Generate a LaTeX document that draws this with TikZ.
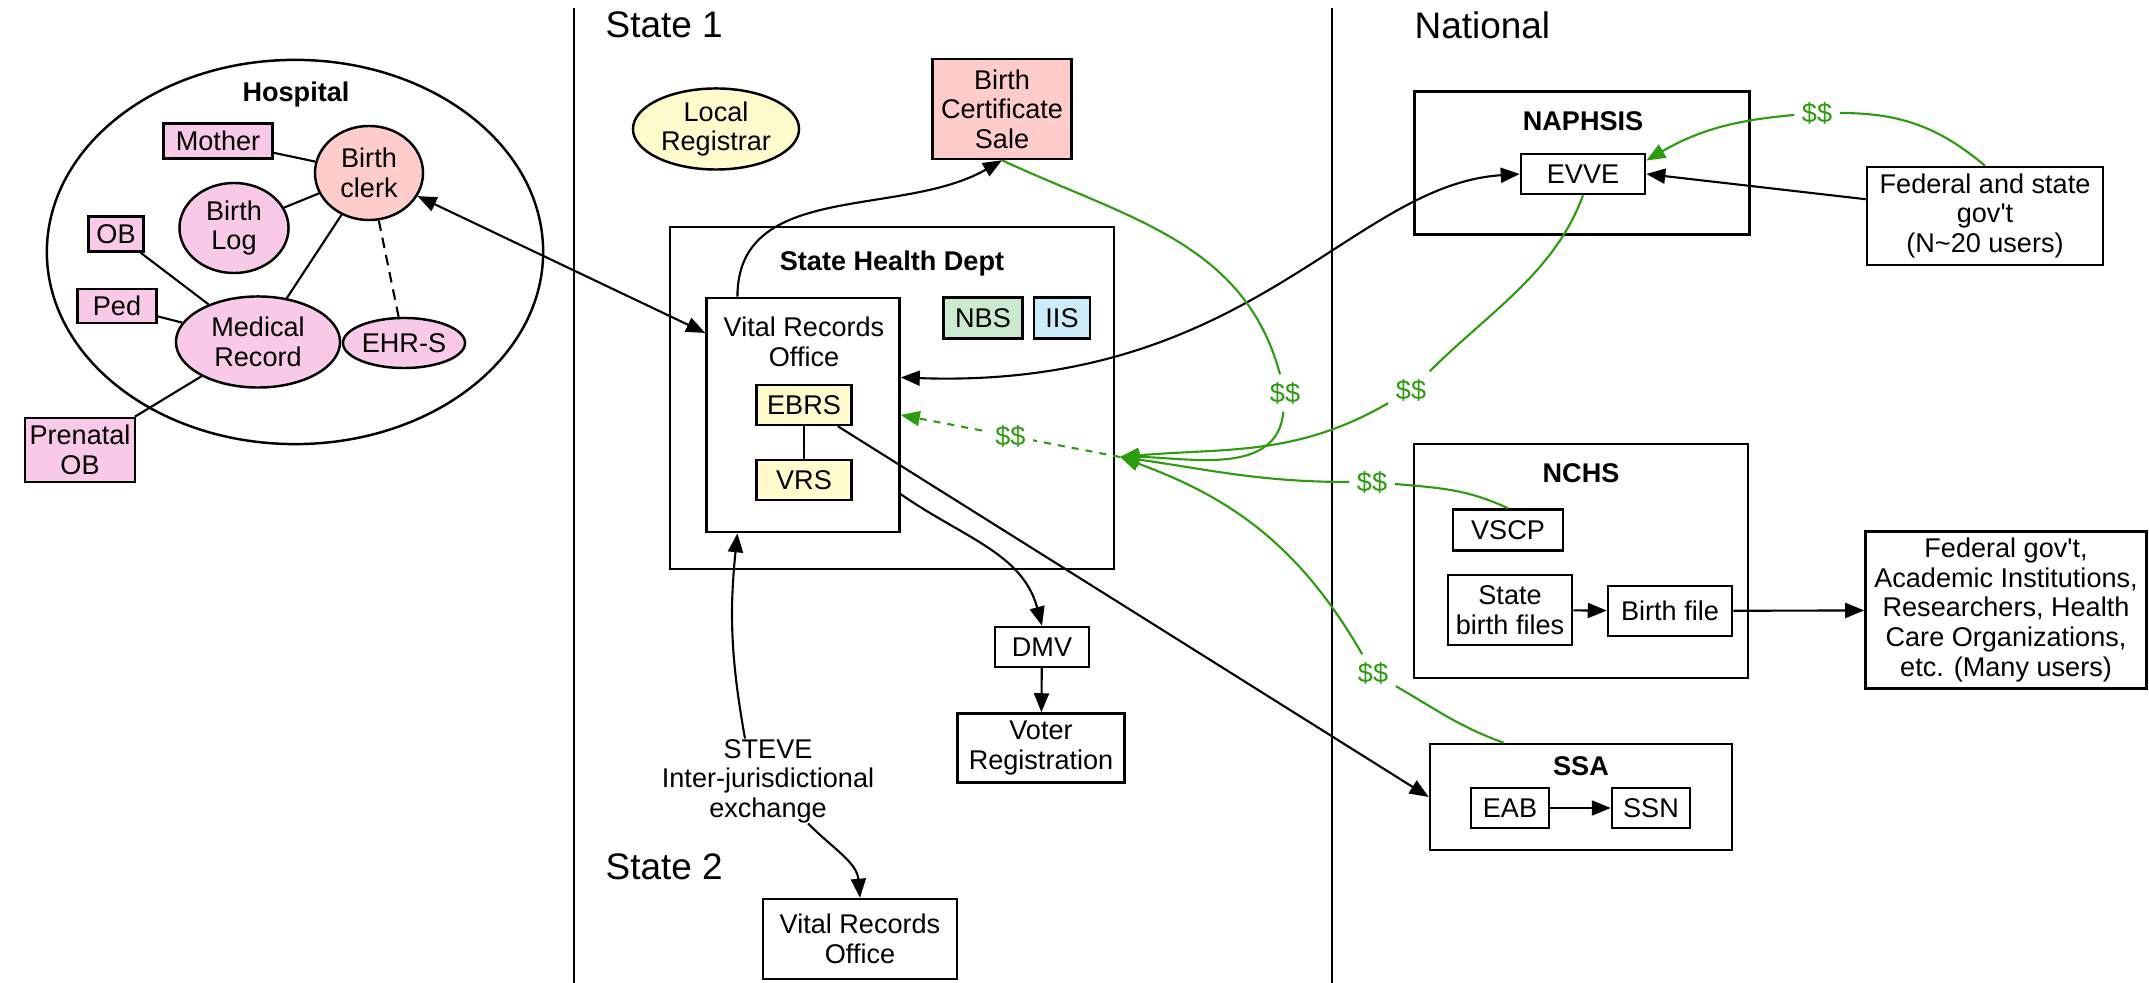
\documentclass[tikz,border=0pt]{standalone}
\usepackage{fontspec}
\setmainfont{Liberation Sans}[Ligatures=TeXOff]
\usepackage{tikz}
\usetikzlibrary{shapes.geometric,arrows.meta}
\definecolor{hosppink}{RGB}{248,202,232}
\definecolor{salmon}{RGB}{255,204,204}
\definecolor{paleyellow}{RGB}{255,251,204}
\definecolor{palegreen}{RGB}{204,234,208}
\definecolor{paleblue}{RGB}{204,236,250}
\definecolor{money}{RGB}{45,155,15}

\begin{document}
\begin{tikzpicture}[x=0.01cm,y=-0.01cm,>={Triangle[length=0.19cm,width=0.15cm]},
  every node/.style={font=\fontsize{7.7}{8.4}\selectfont,align=center,inner sep=0pt},
  box/.style={draw,line width=0.7pt,rectangle},
  oval/.style={draw,line width=0.7pt,ellipse},
  title/.style={font=\fontsize{7.7}{8.4}\selectfont\bfseries},
  region/.style={font=\fontsize{10.5}{12}\selectfont,anchor=west},
  dollar/.style={text=money,inner sep=2pt},
  link/.style={line width=0.6pt},
  pay/.style={draw=money,line width=0.6pt}]
\useasboundingbox (0,0) rectangle (2149,983);

\draw[line width=0.8pt] (574,8) -- (574,983);
\draw[line width=0.8pt] (1332,8) -- (1332,983);
\node[region] (stateone) at (605,25) {State 1};
\node[region] (statetwo) at (605,867) {State 2};
\node[region] (national) at (1414,25) {National};

\node[oval,minimum width=4.96cm,minimum height=3.84cm] (hosp) at (295,252) {};
\node[title] (hosplabel) at (296,95) {Hospital};
\node[box,fill=hosppink,minimum width=1.09cm,minimum height=0.35cm] (mother) at (218,141) {Mother};
\node[oval,fill=salmon,minimum width=1.08cm,minimum height=0.94cm] (clerk) at (369,173) {Birth\\clerk};
\node[oval,fill=hosppink,minimum width=1.09cm,minimum height=0.9cm] (birthlog) at (234,228) {Birth\\Log};
\node[box,fill=hosppink,minimum width=0.55cm,minimum height=0.35cm] (ob) at (116,234) {OB};
\node[box,fill=hosppink,minimum width=0.79cm,minimum height=0.34cm] (ped) at (117,306) {Ped};
\node[oval,fill=hosppink,minimum width=1.64cm,minimum height=0.91cm] (medrec) at (258,342) {Medical\\Record};
\node[oval,fill=hosppink,minimum width=1.22cm,minimum height=0.5cm] (ehrs) at (404,343) {EHR-S};
\node[box,fill=hosppink,minimum width=1.1cm,minimum height=0.64cm] (prenatal) at (80,450) {Prenatal\\OB};

\draw[link] (mother) -- (clerk);
\draw[link] (birthlog) -- (clerk);
\draw[link] (clerk) -- (medrec);
\draw[link,dash pattern=on 3pt off 2pt] (clerk) -- (ehrs);
\draw[link] (ob) -- (medrec);
\draw[link] (ped) -- (medrec);
\draw[link] (prenatal) -- (medrec);

\node[oval,fill=paleyellow,minimum width=1.66cm,minimum height=0.81cm] (localreg) at (716,129) {Local\\Registrar};
\node[box,fill=salmon,minimum width=1.39cm,minimum height=1.0cm] (bcert) at (1002,109) {Birth\\Certificate\\Sale};
\node[box,minimum width=4.44cm,minimum height=3.42cm] (shd) at (892,398) {};
\node[title] (shdlabel) at (892,264) {State Health Dept};
\node[box,minimum width=1.93cm,minimum height=2.34cm] (vro) at (803,415) {};
\node (vrolabel) at (804,342) {Vital Records\\Office};
\node[box,fill=paleyellow,minimum width=0.95cm,minimum height=0.4cm] (ebrs) at (804,405) {EBRS};
\node[box,fill=paleyellow,minimum width=0.95cm,minimum height=0.4cm] (vrs) at (804,480) {VRS};
\node[box,fill=palegreen,minimum width=0.79cm,minimum height=0.41cm] (nbs) at (983,318) {NBS};
\node[box,fill=paleblue,minimum width=0.56cm,minimum height=0.41cm] (iis) at (1062,318) {IIS};
\node[box,minimum width=0.94cm,minimum height=0.4cm] (dmv) at (1042,647) {DMV};
\node[box,minimum width=1.67cm,minimum height=0.69cm] (voter) at (1041,748) {Voter\\Registration};
\node (steve) at (768,781) {STEVE\\Inter-jurisdictional\\exchange};
\node[box,minimum width=1.94cm,minimum height=0.8cm] (vrotwo) at (860,939) {Vital Records\\Office};

\node[box,minimum width=3.35cm,minimum height=1.43cm] (naphsis) at (1582,163) {};
\node[title] (naphsislabel) at (1583,121) {NAPHSIS};
\node[box,minimum width=1.24cm,minimum height=0.4cm] (evve) at (1583,174) {EVVE};
\node[box,minimum width=2.36cm,minimum height=0.98cm] (fedstate) at (1985,216) {Federal and state\\gov't\\(N\textasciitilde 20 users)};
\node[box,minimum width=3.34cm,minimum height=2.34cm] (nchs) at (1581,561) {};
\node[title] (nchslabel) at (1581,473) {NCHS};
\node[box,minimum width=1.1cm,minimum height=0.41cm] (vscp) at (1508,530) {VSCP};
\node[box,minimum width=1.24cm,minimum height=0.7cm] (statefiles) at (1510,610) {State\\birth files};
\node[box,minimum width=1.24cm,minimum height=0.5cm] (birthfile) at (1670,611) {Birth file};
\node[box,minimum width=2.81cm,minimum height=1.57cm] (users) at (2006,610) {Federal gov't,\\Academic Institutions,\\Researchers, Health\\Care Organizations,\\etc. (Many users)};
\node[box,minimum width=3.02cm,minimum height=1.06cm] (ssa) at (1581,797) {};
\node[title] (ssalabel) at (1581,766) {SSA};
\node[box,minimum width=0.78cm,minimum height=0.4cm] (eab) at (1510,808) {EAB};
\node[box,minimum width=0.78cm,minimum height=0.4cm] (ssn) at (1651,808) {SSN};

\draw[link,<->] (clerk) -- (vro.140);
\draw[link,->] (vro.119) to[out=90,in=-150] (bcert.south);
\draw[link,<->] (vro.21) .. controls (1250,390) and (1350,185) .. (evve.west);
\draw[link,->] (vro.-39) to[out=-35,in=105] (dmv.north);
\draw[link,->] (dmv) -- (voter);
\draw[link,->] ([xshift=-0.23cm]steve.north) to[bend left=8] (vro.-119);
\draw[link,->] ([xshift=0.4cm]steve.south) to[out=-45,in=95] (vrotwo.north);
\draw[link] (ebrs) -- (vrs);
\draw[link,->] (ebrs) -- (ssa.west);
\draw[link,->] (fedstate.172) -- (evve.east);
\draw[link,->] (statefiles) -- (birthfile);
\draw[link,->] (birthfile) -- (users);
\draw[link,->] (eab) -- (ssn);

\coordinate (conv) at (1120,457);
\node[dollar] (d1) at (1285,393) {\$\$};
\node[dollar] (d2) at (1411,390) {\$\$};
\node[dollar] (d3) at (1372,482) {\$\$};
\node[dollar] (d4) at (1373,673) {\$\$};
\node[dollar] (d5) at (1817,113) {\$\$};
\draw[pay] (bcert.south) to[out=-25,in=105] (d1);
\draw[pay,->] (d1) to[out=-95,in=0] (conv);
\draw[pay] (evve.south) to[out=-110,in=45,looseness=0.9] (d2);
\draw[pay,->] (d2) to[out=-150,in=5] (conv);
\draw[pay] (vscp.north) to[out=155,in=-5] (d3);
\draw[pay,->] (d3) to[out=180,in=-8] (conv);
\draw[pay] (ssa.145) to[out=160,in=-30] (d4);
\draw[pay,->] (d4) to[out=120,in=-20] (conv);
\draw[pay] (fedstate.north) to[out=140,in=0] (d5);
\draw[pay,->] (d5) to[out=185,in=30] (evve.12);
\draw[pay,->,dash pattern=on 2pt off 2pt] (conv) -- node[dollar,fill=white] (d6) {\$\$} (vro.east);
\end{tikzpicture}
\end{document}
